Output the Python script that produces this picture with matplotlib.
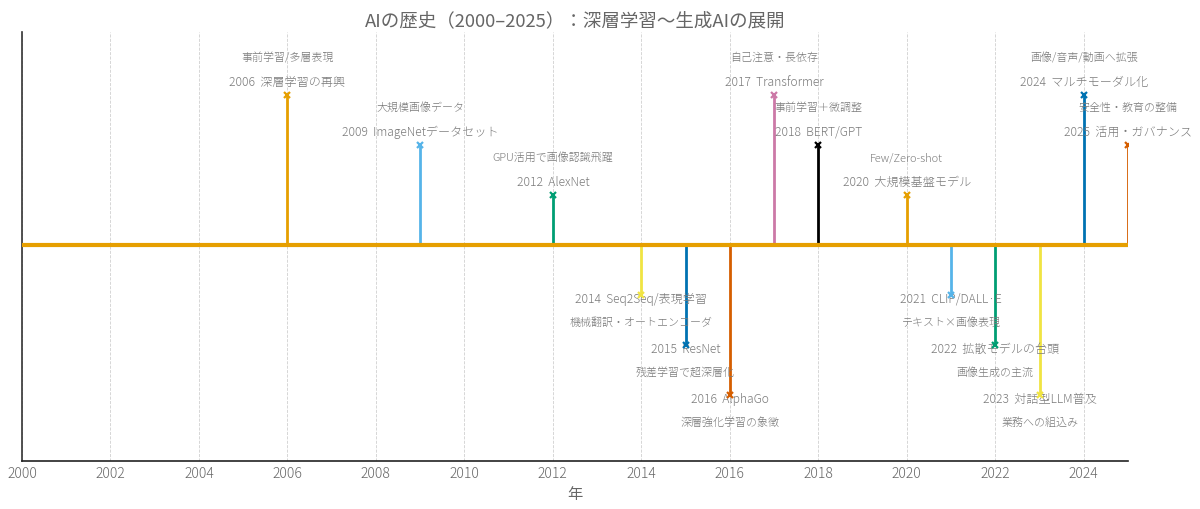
import numpy as np
import matplotlib
matplotlib.use("Agg")
import matplotlib.pyplot as plt

plt.rcParams['font.family'] = ['Noto Sans CJK JP', 'DejaVu Sans']
plt.rcParams['font.weight'] = 'light'

# -- data --
years = [2006, 2009, 2012, 2014, 2015, 2016, 2017, 2018, 2020, 2021, 2022, 2023, 2024, 2025]
levels = [3, 2, 1, -1, -2, -3, 3, 2, 1, -1, -2, -3, 3, 2]
titles = ["深層学習の再興", "ImageNetデータセット", "AlexNet", "Seq2Seq/表現学習", "ResNet",
          "AlphaGo", "Transformer", "BERT/GPT", "大規模基盤モデル", "CLIP/DALL·E",
          "拡散モデルの台頭", "対話型LLM普及", "マルチモーダル化", "活用・ガバナンス"]
descs = ["事前学習/多層表現", "大規模画像データ", "GPU活用で画像認識飛躍", "機械翻訳・オートエンコーダ",
         "残差学習で超深層化", "深層強化学習の象徴", "自己注意・長依存", "事前学習＋微調整",
         "Few/Zero-shot", "テキスト×画像表現", "画像生成の主流", "業務への組込み",
         "画像/音声/動画へ拡張", "安全性・教育の整備"]
palette = ["#E69F00", "#56B4E9", "#009E73", "#F0E442", "#0072B2", "#D55E00", "#CC79A7", "#000000"]

fig = plt.figure(figsize=(12, 5.09), dpi=100)
ax = fig.add_axes([0.0183, 0.0943, 0.9217, 0.8428])

# baseline
ax.plot([2000, 2025], [0, 0], color=palette[0], lw=3, zorder=3)

for i, (yr, lv, t, d) in enumerate(zip(years, levels, titles, descs)):
    c = palette[i % len(palette)]
    ax.plot([yr, yr], [0, lv], color=c, lw=2, zorder=2)
    ax.plot(yr, lv, marker='x', color=c, ms=5, mew=1.6, zorder=4)
    if lv > 0:
        o1, o2 = 13, 37
    else:
        o1, o2 = -4, -28
    ax.annotate(f"{yr}  {t}", (yr, lv), xytext=(0, o1 * 0.72), textcoords='offset points',
                ha='center', va='center', fontsize=8.7, color='#7a7a7a', annotation_clip=False)
    ax.annotate(d, (yr, lv), xytext=(0, o2 * 0.72), textcoords='offset points',
                ha='center', va='center', fontsize=7.9, color='#7a7a7a', annotation_clip=False)

ax.set_xlim(2000, 2025)
ax.set_ylim(-4.32, 4.26)
ax.set_xticks(np.arange(2000, 2025, 2))
ax.set_yticks([])
ax.tick_params(axis='x', colors='#666666', labelsize=10, length=0, pad=4)
ax.grid(axis='x', ls='--', color='#d0d0d0', lw=0.6)
for s in ['top', 'right']:
    ax.spines[s].set_visible(False)
ax.spines['left'].set_color('#333333')
ax.spines['bottom'].set_color('#222222')
ax.spines['left'].set_linewidth(1.2)
ax.spines['bottom'].set_linewidth(1.2)
ax.set_xlabel("年", color='#666666', fontsize=11, labelpad=4)
ax.set_title("AIの歴史（2000–2025）：深層学習〜生成AIの展開", color='#666666', fontsize=13.3, pad=4)

fig.savefig("out.png", dpi=100)
